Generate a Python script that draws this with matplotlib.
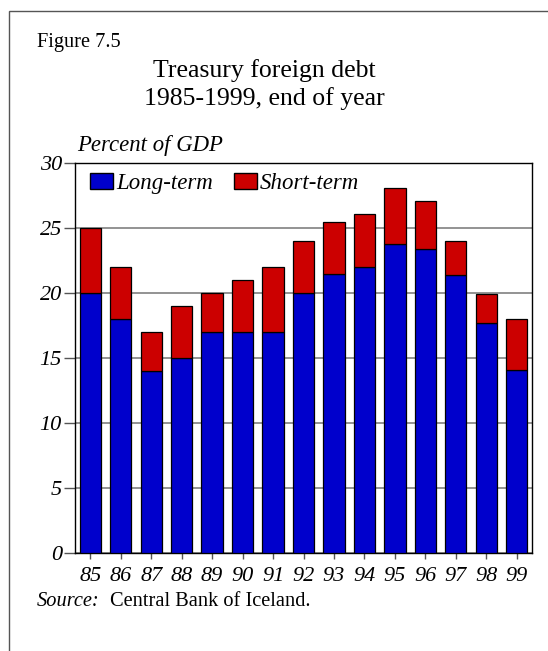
import matplotlib
matplotlib.use("Agg")
import matplotlib.pyplot as plt
from matplotlib.patches import Rectangle, Patch
import numpy as np

# data
years = ["85", "86", "87", "88", "89", "90", "91", "92", "93", "94", "95", "96", "97", "98", "99"]
long_term = [20.0, 18.0, 14.0, 15.0, 17.0, 17.0, 17.0, 20.0, 21.5, 22.0, 23.8, 23.4, 21.4, 17.7, 14.1]
short_term = [5.0, 4.0, 3.0, 4.0, 3.0, 4.0, 5.0, 4.0, 4.0, 4.1, 4.3, 3.7, 2.6, 2.2, 3.9]

BLUE = "#0000CC"
RED = "#CC0000"

plt.rcParams["font.family"] = ["Liberation Serif", "DejaVu Serif"]

W, H = 548, 651
fig = plt.figure(figsize=(W / 100, H / 100), dpi=100)

# outer frame (only top and left visible in the original)
fig.patches.append(Rectangle((9 / W, -0.1), 1.2, 1 - 11 / H + 0.1, transform=fig.transFigure,
                             fill=False, edgecolor="#555555", linewidth=1.0))

ax = fig.add_axes([75 / W, (H - 553) / H, 457 / W, 390 / H])

x = np.arange(len(years))
ax.bar(x, long_term, width=0.7, color=BLUE, edgecolor="black", linewidth=0.9, zorder=3)
ax.bar(x, short_term, width=0.7, bottom=long_term, color=RED, edgecolor="black", linewidth=0.9, zorder=3)

ax.set_xlim(-0.5, len(years) - 0.5)
ax.set_ylim(0, 30)
ax.set_yticks(range(0, 31, 5))
ax.set_xticks(x)
ax.set_xticklabels(years, fontsize=16, style="italic")
ax.set_yticklabels([str(v) for v in range(0, 31, 5)], fontsize=16, style="italic")
ax.yaxis.grid(True, color="#808080", linewidth=1.2, zorder=0)
ax.set_axisbelow(True)
ax.tick_params(axis="y", direction="out", length=8, width=1, color="#555555", pad=1.5)
ax.tick_params(axis="x", direction="out", length=4, width=1, color="#555555", pad=6)
for s in ax.spines.values():
    s.set_linewidth(1.0)

handles = [Patch(facecolor=BLUE, edgecolor="black", label="Long-term"),
           Patch(facecolor=RED, edgecolor="black", label="Short-term")]
ax.legend(handles=handles, loc="upper left", bbox_to_anchor=(0.033, 0.975), ncol=2, frameon=False,
          prop={"size": 16.5, "style": "italic"}, borderpad=0, borderaxespad=0,
          handlelength=1.0, handleheight=0.7, handletextpad=0.15, columnspacing=0.9)

fig.text(37 / W, 1 - 42 / H, "Figure 7.5", fontsize=14.7, va="center", ha="left")
fig.text(264 / W, 1 - 71 / H, "Treasury foreign debt", fontsize=18.5, va="center", ha="center")
fig.text(264 / W, 1 - 99 / H, "1985-1999, end of year", fontsize=18.5, va="center", ha="center")
fig.text(77 / W, 1 - 145 / H, "Percent of GDP", fontsize=16.4, style="italic", va="center", ha="left")
fig.text(37 / W, 1 - 601 / H, "Source:", fontsize=14.7, style="italic", va="center", ha="left")
fig.text(110 / W, 1 - 601 / H, "Central Bank of Iceland.", fontsize=14.7, va="center", ha="left")

fig.savefig("out.png", dpi=100)
